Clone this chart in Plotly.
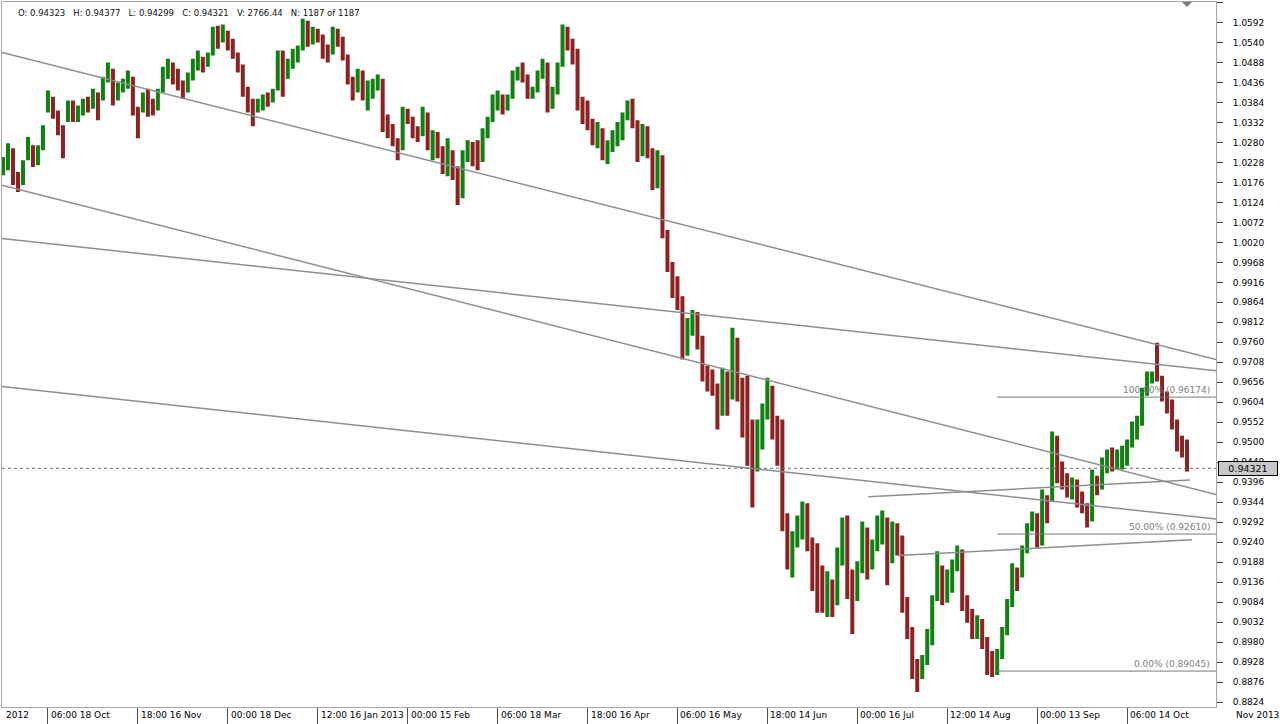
import plotly.graph_objects as go

# ---------------- data ----------------
bar_no = list(range(0, 1190, 5))   # bar numbers (every 5th bar of 1187)

opens = [
    1.0208, 1.0221, 1.0260, 1.0187, 1.0182, 1.0239, 1.0273, 1.0234, 1.0265, 1.0363,
    1.0394, 1.0358, 1.0317, 1.0338, 1.0376, 1.0350, 1.0363, 1.0384, 1.0373, 1.0402,
    1.0394, 1.0441, 1.0467, 1.0394, 1.0420, 1.0436, 1.0446, 1.0368, 1.0363, 1.0399,
    1.0376, 1.0368, 1.0415, 1.0462, 1.0483, 1.0451, 1.0431, 1.0415, 1.0451, 1.0477,
    1.0498, 1.0485, 1.0514, 1.0566, 1.0545, 1.0566, 1.0535, 1.0509, 1.0477, 1.0420,
    1.0384, 1.0368, 1.0379, 1.0394, 1.0389, 1.0420, 1.0503, 1.0451, 1.0483, 1.0503,
    1.0524, 1.0587, 1.0555, 1.0571, 1.0555, 1.0519, 1.0514, 1.0566, 1.0550, 1.0503,
    1.0446, 1.0420, 1.0462, 1.0410, 1.0425, 1.0431, 1.0436, 1.0338, 1.0322, 1.0286,
    1.0265, 1.0358, 1.0342, 1.0312, 1.0302, 1.0353, 1.0286, 1.0302, 1.0265, 1.0229,
    1.0255, 1.0208, 1.0143, 1.0239, 1.0265, 1.0244, 1.0239, 1.0307, 1.0338, 1.0389,
    1.0399, 1.0368, 1.0399, 1.0457, 1.0462, 1.0451, 1.0410, 1.0415, 1.0457, 1.0477,
    1.0389, 1.0410, 1.0483, 1.0571, 1.0545, 1.0514, 1.0394, 1.0363, 1.0328, 1.0302,
    1.0312, 1.0255, 1.0265, 1.0296, 1.0317, 1.0342, 1.0379, 1.0333, 1.0260, 1.0312,
    1.0260, 1.0182, 1.0229, 1.0047, 0.9964, 0.9896, 0.9875, 0.9741, 0.9802, 0.9828,
    0.9767, 0.9684, 0.9663, 0.9647, 0.9585, 0.9663, 0.9621, 0.9767, 0.9653, 0.9559,
    0.9497, 0.9429, 0.9517, 0.9580, 0.9632, 0.9559, 0.9507, 0.9299, 0.9226, 0.9247,
    0.9289, 0.9320, 0.9247, 0.9169, 0.9118, 0.9092, 0.9133, 0.9082, 0.9195, 0.9278,
    0.9143, 0.9092, 0.9164, 0.9273, 0.9195, 0.9231, 0.9289, 0.9299, 0.9195, 0.9273,
    0.9247, 0.9092, 0.9014, 0.8910, 0.8894, 0.8926, 0.8988, 0.9092, 0.9174, 0.9118,
    0.9138, 0.9179, 0.9216, 0.9097, 0.9056, 0.9014, 0.9024, 0.8988, 0.8926, 0.8915,
    0.8946, 0.9004, 0.9076, 0.9169, 0.9153, 0.9216, 0.9273, 0.9309, 0.9247, 0.9356,
    0.9351, 0.9507, 0.9429, 0.9403, 0.9377, 0.9398, 0.9351, 0.9335, 0.9299, 0.9408,
    0.9382, 0.9445, 0.9460, 0.9450, 0.9465, 0.9476, 0.9491, 0.9538, 0.9549, 0.9627,
    0.9668, 0.9684, 0.9668, 0.9621, 0.9606, 0.9549, 0.9497, 0.9481,
]

highs = [
    1.0242, 1.0278, 1.0265, 1.0203, 1.0234, 1.0294, 1.0273, 1.0273, 1.0325, 1.0415,
    1.0399, 1.0363, 1.0325, 1.0389, 1.0389, 1.0376, 1.0394, 1.0399, 1.0420, 1.0410,
    1.0451, 1.0488, 1.0472, 1.0436, 1.0446, 1.0467, 1.0451, 1.0373, 1.0410, 1.0420,
    1.0394, 1.0420, 1.0477, 1.0498, 1.0488, 1.0472, 1.0441, 1.0462, 1.0498, 1.0519,
    1.0503, 1.0514, 1.0581, 1.0584, 1.0587, 1.0571, 1.0550, 1.0514, 1.0483, 1.0425,
    1.0394, 1.0394, 1.0405, 1.0410, 1.0420, 1.0519, 1.0519, 1.0498, 1.0524, 1.0532,
    1.0602, 1.0597, 1.0581, 1.0576, 1.0561, 1.0535, 1.0581, 1.0576, 1.0555, 1.0509,
    1.0451, 1.0472, 1.0467, 1.0441, 1.0446, 1.0457, 1.0446, 1.0353, 1.0328, 1.0291,
    1.0373, 1.0368, 1.0347, 1.0322, 1.0373, 1.0358, 1.0312, 1.0307, 1.0270, 1.0291,
    1.0260, 1.0218, 1.0260, 1.0286, 1.0281, 1.0286, 1.0317, 1.0347, 1.0405, 1.0415,
    1.0405, 1.0405, 1.0467, 1.0477, 1.0488, 1.0457, 1.0425, 1.0467, 1.0498, 1.0488,
    1.0425, 1.0488, 1.0587, 1.0581, 1.0550, 1.0524, 1.0399, 1.0389, 1.0342, 1.0333,
    1.0317, 1.0286, 1.0312, 1.0333, 1.0358, 1.0389, 1.0394, 1.0338, 1.0328, 1.0322,
    1.0265, 1.0260, 1.0247, 1.0052, 0.9969, 0.9932, 0.9880, 0.9823, 0.9844, 0.9839,
    0.9777, 0.9699, 0.9689, 0.9653, 0.9694, 0.9684, 0.9798, 0.9772, 0.9668, 0.9673,
    0.9559, 0.9559, 0.9601, 0.9668, 0.9647, 0.9569, 0.9559, 0.9315, 0.9268, 0.9309,
    0.9346, 0.9341, 0.9252, 0.9237, 0.9179, 0.9164, 0.9143, 0.9226, 0.9304, 0.9309,
    0.9169, 0.9190, 0.9294, 0.9278, 0.9247, 0.9309, 0.9322, 0.9304, 0.9294, 0.9289,
    0.9257, 0.9097, 0.9019, 0.8936, 0.8946, 0.9014, 0.9102, 0.9216, 0.9179, 0.9169,
    0.9195, 0.9231, 0.9221, 0.9102, 0.9066, 0.9050, 0.9040, 0.8993, 0.8957, 0.8962,
    0.9019, 0.9092, 0.9185, 0.9174, 0.9231, 0.9289, 0.9320, 0.9315, 0.9377, 0.9362,
    0.9528, 0.9517, 0.9450, 0.9419, 0.9408, 0.9403, 0.9372, 0.9341, 0.9429, 0.9413,
    0.9460, 0.9481, 0.9486, 0.9481, 0.9491, 0.9507, 0.9554, 0.9569, 0.9642, 0.9684,
    0.9684, 0.9759, 0.9673, 0.9632, 0.9611, 0.9559, 0.9517, 0.9507,
]

lows = [
    1.0195, 1.0208, 1.0169, 1.0151, 1.0169, 1.0234, 1.0216, 1.0221, 1.0260, 1.0358,
    1.0342, 1.0299, 1.0239, 1.0333, 1.0333, 1.0333, 1.0350, 1.0358, 1.0368, 1.0338,
    1.0389, 1.0436, 1.0376, 1.0389, 1.0410, 1.0420, 1.0350, 1.0291, 1.0358, 1.0347,
    1.0350, 1.0363, 1.0410, 1.0446, 1.0431, 1.0415, 1.0394, 1.0410, 1.0441, 1.0467,
    1.0462, 1.0477, 1.0506, 1.0524, 1.0540, 1.0519, 1.0498, 1.0462, 1.0399, 1.0358,
    1.0322, 1.0358, 1.0363, 1.0373, 1.0384, 1.0415, 1.0399, 1.0446, 1.0472, 1.0488,
    1.0519, 1.0529, 1.0535, 1.0540, 1.0498, 1.0488, 1.0509, 1.0529, 1.0493, 1.0431,
    1.0389, 1.0410, 1.0389, 1.0363, 1.0394, 1.0415, 1.0307, 1.0291, 1.0270, 1.0234,
    1.0260, 1.0328, 1.0291, 1.0281, 1.0296, 1.0260, 1.0234, 1.0239, 1.0198, 1.0192,
    1.0182, 1.0117, 1.0135, 1.0229, 1.0218, 1.0208, 1.0229, 1.0291, 1.0333, 1.0363,
    1.0353, 1.0363, 1.0394, 1.0441, 1.0436, 1.0394, 1.0394, 1.0410, 1.0446, 1.0358,
    1.0368, 1.0405, 1.0477, 1.0519, 1.0483, 1.0363, 1.0328, 1.0312, 1.0273, 1.0265,
    1.0234, 1.0224, 1.0255, 1.0270, 1.0286, 1.0338, 1.0317, 1.0229, 1.0244, 1.0239,
    1.0156, 1.0161, 1.0031, 0.9943, 0.9875, 0.9844, 0.9715, 0.9725, 0.9777, 0.9741,
    0.9658, 0.9632, 0.9621, 0.9533, 0.9569, 0.9569, 0.9611, 0.9606, 0.9512, 0.9439,
    0.9330, 0.9424, 0.9481, 0.9559, 0.9507, 0.9439, 0.9268, 0.9169, 0.9148, 0.9226,
    0.9247, 0.9216, 0.9113, 0.9056, 0.9056, 0.9045, 0.9045, 0.9076, 0.9179, 0.9092,
    0.9001, 0.9087, 0.9159, 0.9143, 0.9169, 0.9216, 0.9234, 0.9128, 0.9185, 0.9205,
    0.9056, 0.8988, 0.8884, 0.8850, 0.8884, 0.8920, 0.8972, 0.9087, 0.9076, 0.9082,
    0.9108, 0.9164, 0.9061, 0.9030, 0.8988, 0.8988, 0.8962, 0.8894, 0.8889, 0.8894,
    0.8936, 0.8998, 0.9071, 0.9113, 0.9148, 0.9211, 0.9268, 0.9226, 0.9231, 0.9289,
    0.9346, 0.9393, 0.9377, 0.9356, 0.9351, 0.9330, 0.9315, 0.9278, 0.9294, 0.9362,
    0.9377, 0.9419, 0.9424, 0.9429, 0.9429, 0.9439, 0.9486, 0.9507, 0.9543, 0.9621,
    0.9653, 0.9658, 0.9606, 0.9575, 0.9533, 0.9476, 0.9460, 0.9424,
]

closes = [
    1.0229, 1.0260, 1.0187, 1.0177, 1.0221, 1.0281, 1.0234, 1.0260, 1.0312, 1.0402,
    1.0358, 1.0317, 1.0286, 1.0376, 1.0350, 1.0363, 1.0384, 1.0368, 1.0410, 1.0350,
    1.0441, 1.0472, 1.0394, 1.0420, 1.0436, 1.0451, 1.0368, 1.0325, 1.0399, 1.0376,
    1.0363, 1.0402, 1.0462, 1.0483, 1.0451, 1.0436, 1.0415, 1.0446, 1.0472, 1.0503,
    1.0483, 1.0503, 1.0566, 1.0545, 1.0571, 1.0535, 1.0514, 1.0477, 1.0420, 1.0384,
    1.0368, 1.0384, 1.0394, 1.0389, 1.0410, 1.0503, 1.0441, 1.0483, 1.0503, 1.0519,
    1.0587, 1.0555, 1.0571, 1.0555, 1.0519, 1.0509, 1.0566, 1.0550, 1.0509, 1.0446,
    1.0415, 1.0462, 1.0410, 1.0425, 1.0431, 1.0441, 1.0338, 1.0322, 1.0286, 1.0260,
    1.0358, 1.0342, 1.0312, 1.0296, 1.0358, 1.0286, 1.0302, 1.0265, 1.0229, 1.0260,
    1.0208, 1.0140, 1.0239, 1.0265, 1.0244, 1.0234, 1.0307, 1.0333, 1.0389, 1.0399,
    1.0368, 1.0394, 1.0457, 1.0462, 1.0451, 1.0410, 1.0415, 1.0457, 1.0477, 1.0389,
    1.0410, 1.0477, 1.0571, 1.0545, 1.0514, 1.0394, 1.0363, 1.0328, 1.0302, 1.0317,
    1.0255, 1.0265, 1.0296, 1.0317, 1.0342, 1.0379, 1.0333, 1.0260, 1.0312, 1.0260,
    1.0182, 1.0234, 1.0047, 0.9964, 0.9896, 0.9875, 0.9741, 0.9802, 0.9828, 0.9767,
    0.9684, 0.9663, 0.9647, 0.9585, 0.9663, 0.9621, 0.9767, 0.9653, 0.9559, 0.9497,
    0.9429, 0.9517, 0.9580, 0.9632, 0.9559, 0.9507, 0.9299, 0.9226, 0.9247, 0.9289,
    0.9320, 0.9247, 0.9169, 0.9118, 0.9092, 0.9133, 0.9082, 0.9195, 0.9278, 0.9143,
    0.9092, 0.9164, 0.9273, 0.9195, 0.9231, 0.9289, 0.9299, 0.9195, 0.9273, 0.9247,
    0.9092, 0.9014, 0.8910, 0.8894, 0.8926, 0.8988, 0.9092, 0.9174, 0.9118, 0.9138,
    0.9179, 0.9216, 0.9097, 0.9056, 0.9014, 0.9024, 0.8988, 0.8926, 0.8915, 0.8946,
    0.9004, 0.9076, 0.9169, 0.9153, 0.9216, 0.9273, 0.9309, 0.9247, 0.9356, 0.9325,
    0.9507, 0.9429, 0.9403, 0.9377, 0.9398, 0.9351, 0.9335, 0.9299, 0.9408, 0.9382,
    0.9445, 0.9460, 0.9450, 0.9465, 0.9476, 0.9491, 0.9538, 0.9549, 0.9627, 0.9668,
    0.9673, 0.9668, 0.9621, 0.9606, 0.9549, 0.9497, 0.9481, 0.94321,
]

# time-axis labels (bar number where each label's separator sits)
time_label_bars = [45, 135, 225, 315, 405, 495, 585, 675, 765, 855, 945, 1035, 1125]
time_labels = ["06:00 18 Oct", "18:00 16 Nov", "00:00 18 Dec", "12:00 16 Jan 2013",
               "00:00 15 Feb", "06:00 18 Mar", "18:00 16 Apr", "06:00 16 May",
               "18:00 14 Jun", "00:00 16 Jul", "12:00 14 Aug", "00:00 13 Sep",
               "06:00 14 Oct"]
first_label = "2012"
next_label = "Nov 2013"

price_ticks = [0.8824, 0.8876, 0.8928, 0.8980, 0.9032, 0.9084, 0.9136, 0.9188, 0.9240,
               0.9292, 0.9344, 0.9396, 0.9448, 0.9500, 0.9552, 0.9604, 0.9656, 0.9708,
               0.9760, 0.9812, 0.9864, 0.9916, 0.9968, 1.0020, 1.0072, 1.0124, 1.0176,
               1.0228, 1.0280, 1.0332, 1.0384, 1.0436, 1.0488, 1.0540, 1.0592, 1.0644]

# drawn trend lines: start bar, start price, end bar, end price
trend_x0 = [-1, -1, -1, -1, 866, 895]
trend_p0 = [1.0514, 1.0169, 1.0030, 0.9645, 0.9358, 0.9205]
trend_x1 = [1214, 1214, 1214, 1214, 1188, 1190]
trend_p1 = [0.9715, 0.9364, 0.9686, 0.9300, 0.9402, 0.9246]

# Fibonacci retracement
fib_levels = [0.96174, 0.92610, 0.89045]
fib_names = ["100.00%", "50.00%", "0.00%"]
fib_start_bar = 995

last_ohlc = {"O": "0.94323", "H": "0.94377", "L": "0.94299", "C": "0.94321",
             "V": "2766.44", "N": "1187 of 1187"}
last_close = 0.94321

# ---------------- styling ----------------
GREEN = "#118211"
RED = "#8c2222"
LINE_GRAY = "#8f8f8f"
FONT = "DejaVu Sans"
W, H = 1280, 724
ML, MR, MT, MB = 1, 64, 1, 16
X_RANGE = [-1, 1214]
Y_RANGE = [0.88110, 1.06455]

fig = go.Figure()
fig.add_trace(go.Ohlc(
    x=bar_no, open=opens, high=highs, low=lows, close=closes,
    increasing=dict(line=dict(color=GREEN, width=4)),
    decreasing=dict(line=dict(color=RED, width=4)),
    tickwidth=0.05, showlegend=False, hoverinfo="skip",
))

shapes = []
for x0, p0, x1, p1 in zip(trend_x0, trend_p0, trend_x1, trend_p1):
    shapes.append(dict(type="line", xref="x", yref="y", x0=x0, y0=p0, x1=x1, y1=p1,
                       line=dict(color=LINE_GRAY, width=1.5), layer="above"))
for lv in fib_levels:
    shapes.append(dict(type="line", xref="x", yref="y", x0=fib_start_bar, y0=lv,
                       x1=X_RANGE[1], y1=lv, line=dict(color="#7a7a7a", width=1),
                       layer="above"))
shapes.append(dict(type="line", xref="x", yref="y", x0=X_RANGE[0], y0=last_close,
                   x1=X_RANGE[1], y1=last_close,
                   line=dict(color="#707070", width=1, dash="dot"), layer="above"))
# small marker triangle at the top of the pane
shapes.append(dict(type="path", xref="x", yref="paper", xsizemode="pixel",
                   ysizemode="pixel", xanchor=bar_no[-1], yanchor=1,
                   path="M -5,0 L 5,0 L 0,-5 Z", fillcolor="#7a7a7a",
                   line=dict(width=0), layer="above"))

annotations = []
ph = H - MT - MB
pw = W - ML - MR
label_y = -(8 / ph)
lab_font = dict(family=FONT, size=9, color="#000")
annotations.append(dict(text=first_label, xref="x", x=1, yref="paper", y=label_y,
                        xanchor="left", yanchor="middle", showarrow=False,
                        font=lab_font))
for b, t in zip(time_label_bars, time_labels):
    annotations.append(dict(text=t, xref="x", x=b + 1, yref="paper", y=label_y,
                            xanchor="left", yanchor="middle", showarrow=False,
                            font=lab_font))
annotations.append(dict(text=next_label, xref="paper", x=(1234 - ML) / pw, yref="paper",
                        y=label_y, xanchor="left", yanchor="middle", showarrow=False,
                        font=lab_font))
for lv, nm in zip(fib_levels, fib_names):
    annotations.append(dict(text=f"{nm} ({lv:.5f})", xref="x", x=1210, yref="y", y=lv,
                            xanchor="right", yanchor="bottom", yshift=0,
                            showarrow=False,
                            font=dict(family=FONT, size=9, color="#808080")))
sp = "\u00a0"
info = (f"O:{sp}{last_ohlc['O']}{sp*2} H:{sp}{last_ohlc['H']}{sp*2} L:{sp}{last_ohlc['L']}"
        f"{sp*2} C:{sp}{last_ohlc['C']}{sp*2} V:{sp}{last_ohlc['V']}{sp*2} N:{sp}{last_ohlc['N']}")
annotations.append(dict(text=info, xref="paper", x=(15 - ML) / pw, yref="paper",
                        y=1 - (12 - MT) / ph, xanchor="left", yanchor="middle",
                        showarrow=False, font=dict(family=FONT, size=8.5, color="#111")))
annotations.append(dict(text=f"{last_close:.5f}", xref="paper", x=(1218 - ML) / pw,
                        yref="y", y=last_close, xanchor="left", yanchor="middle",
                        showarrow=False, bgcolor="#c8c8c8", bordercolor="#000",
                        borderwidth=1, borderpad=1, width=56, height=11,
                        font=dict(family=FONT, size=9.5, color="#000")))

fig.update_layout(
    width=W, height=H, margin=dict(l=ML, r=MR, t=MT, b=MB, pad=0),
    paper_bgcolor="white", plot_bgcolor="white",
    showlegend=False, shapes=shapes, annotations=annotations,
    xaxis=dict(range=X_RANGE, showgrid=False, zeroline=False, showline=True,
               mirror=True, linecolor="#a8a8a8", linewidth=1,
               tickvals=time_label_bars, ticks="outside", ticklen=16,
               tickcolor="#505050", tickwidth=1, showticklabels=False,
               rangeslider=dict(visible=False), fixedrange=True),
    yaxis=dict(range=Y_RANGE, side="right", showgrid=False, zeroline=False,
               showline=True, mirror=True, linecolor="#a8a8a8", linewidth=1,
               tickvals=price_ticks, ticktext=[f"{v:.4f}" for v in price_ticks],
               ticks="outside", ticklen=6, tickcolor="#404040", tickwidth=1,
               ticklabelstandoff=8,
               tickfont=dict(family=FONT, size=9, color="#000"), fixedrange=True),
)

fig.write_html(
    "out.html",
    config={"displayModeBar": False},
    post_script="document.body.style.margin='0px';document.body.style.padding='0px';"
                "document.body.style.overflow='hidden';",
)
